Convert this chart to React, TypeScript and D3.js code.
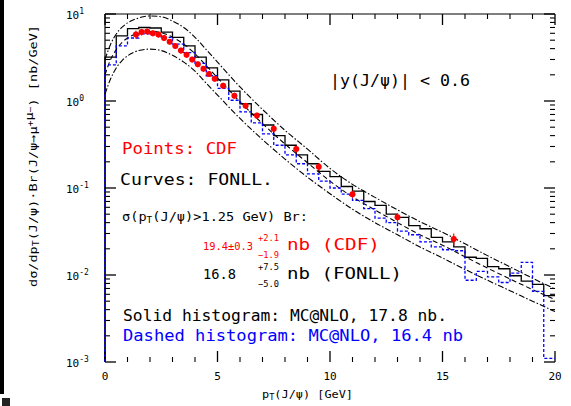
import React from "react";
import * as d3 from "d3";

// FONLL curves (central + uncertainty band)
const fonllPt = [0, 0.25, 0.5, 0.75, 1, 1.5, 2, 2.5, 3, 3.5, 4, 4.5, 5, 6, 7, 8, 9, 10, 11, 12, 13, 14, 15, 16, 17, 18, 19, 20];
const fonllCentral = [2.0, 3.0, 3.9, 4.7, 5.3, 6.0, 6.3, 6.1, 5.4, 4.5, 3.5, 2.55, 1.85, 0.98, 0.55, 0.32, 0.195, 0.12, 0.079, 0.056, 0.04, 0.029, 0.022, 0.0162, 0.012, 0.009, 0.0068, 0.0052];
const fonllUpper = [3.0, 4.5, 5.9, 7.0, 7.9, 9.0, 9.5, 9.3, 8.3, 7.0, 5.4, 3.9, 2.8, 1.45, 0.8, 0.46, 0.28, 0.168, 0.11, 0.078, 0.056, 0.041, 0.031, 0.0228, 0.0167, 0.0124, 0.0092, 0.0069];
const fonllLower = [1.2, 1.8, 2.4, 2.9, 3.3, 3.8, 3.95, 3.8, 3.35, 2.8, 2.2, 1.6, 1.17, 0.63, 0.36, 0.215, 0.133, 0.086, 0.057, 0.04, 0.029, 0.021, 0.0157, 0.0116, 0.0087, 0.0066, 0.005, 0.0038];

// CDF data points
const dataPt = [1.375, 1.625, 1.875, 2.125, 2.375, 2.625, 2.875, 3.125, 3.375, 3.625, 3.875, 4.125, 4.375, 4.625, 4.875, 5.25, 5.75, 6.25, 6.75, 7.5, 8.5, 9.5, 11, 13, 15.5];
const dataVal = [5.8, 6.2, 6.3, 6.0, 5.8, 5.3, 4.8, 4.3, 3.8, 3.4, 3.0, 2.65, 2.35, 2.05, 1.8, 1.5, 1.15, 0.88, 0.68, 0.48, 0.28, 0.175, 0.085, 0.046, 0.026];
const dataErr = [0.6, 0.55, 0.5, 0.45, 0.45, 0.4, 0.35, 0.32, 0.3, 0.26, 0.23, 0.2, 0.18, 0.16, 0.14, 0.12, 0.09, 0.07, 0.055, 0.04, 0.025, 0.016, 0.008, 0.005, 0.004];

// MC@NLO histograms
const histEdges = [0, 0.5, 1, 1.5, 2, 2.5, 3, 3.5, 4, 4.5, 5, 5.5, 6, 6.5, 7, 7.5, 8, 8.5, 9, 9.5, 10, 10.5, 11, 11.5, 12, 12.5, 13, 13.5, 14, 14.5, 15, 15.5, 16, 16.5, 17, 17.5, 18, 18.5, 19, 19.5, 20];
const mcSolid = [3.2, 5.6, 6.8, 7.0, 6.9, 6.2, 5.4, 4.3, 3.2, 2.4, 1.75, 1.3, 0.93, 0.7, 0.53, 0.4, 0.31, 0.24, 0.19, 0.155, 0.135, 0.104, 0.092, 0.07, 0.063, 0.05, 0.046, 0.037, 0.034, 0.027, 0.024, 0.021, 0.016, 0.0155, 0.0125, 0.0118, 0.0098, 0.0085, 0.0078, 0.0058];
const mcDashed = [2.6, 4.3, 5.3, 5.9, 5.8, 5.4, 4.5, 3.6, 2.7, 1.95, 1.4, 1.02, 0.75, 0.56, 0.42, 0.31, 0.24, 0.19, 0.145, 0.12, 0.1, 0.085, 0.072, 0.058, 0.045, 0.04, 0.032, 0.029, 0.024, 0.021, 0.0195, 0.019, 0.0087, 0.011, 0.0095, 0.0082, 0.0105, 0.014, 0.0065, 0.0011];

const xTickLabels = [0, 5, 10, 15, 20];
const xMinorTicks = [1, 2, 3, 4, 6, 7, 8, 9, 11, 12, 13, 14, 16, 17, 18, 19];
const yTickExps = [1, 0, -1, -2, -3];

const FONT = "'DejaVu Sans Mono', 'Liberation Mono', monospace";

export default function App() {
  const x = d3.scaleLinear().domain([0, 20]).range([105, 555]);
  const y = d3.scaleLog().domain([1e-3, 10]).range([362, 14]).clamp(true);

  const line = d3
    .line<number>()
    .x((_, i) => x(fonllPt[i]))
    .y((d) => y(d))
    .curve(d3.curveMonotoneX);

  const hist = (vals: number[]) => {
    let p = `M${x(histEdges[0])},${y(1e-3)}`;
    vals.forEach((v, i) => {
      p += `L${x(histEdges[i])},${y(v)}L${x(histEdges[i + 1])},${y(v)}`;
    });
    return p;
  };

  const minorY: number[] = [];
  for (let e = -3; e < 1; e++) for (let k = 2; k <= 9; k++) minorY.push(k * Math.pow(10, e));

  return (
    <svg width={571} height={406} style={{ position: "absolute", left: 0, top: 0, background: "#fff" }} fontFamily={FONT}>
      <rect x={0} y={0} width={571} height={406} fill="#fff" />
      <rect x={0} y={0} width={4} height={394} fill="#000" />
      <rect x={2} y={398} width={8} height={8} fill="#222" />

      {/* frame */}
      <line x1={105} x2={555} y1={14} y2={14} stroke="#000" strokeWidth={1.2} />
      <line x1={105} x2={105} y1={14} y2={362} stroke="#000" strokeWidth={1.2} />

      {/* y ticks */}
      {yTickExps.map((e) => (
        <g key={"yt" + e}>
          <line x1={105} x2={116} y1={y(Math.pow(10, e))} y2={y(Math.pow(10, e))} stroke="#000" strokeWidth={1.3} />
          <line x1={544} x2={555} y1={y(Math.pow(10, e))} y2={y(Math.pow(10, e))} stroke="#000" strokeWidth={1.3} />
          <text x={66} y={y(Math.pow(10, e)) + 5} fontSize={11} fill="#000">
            10<tspan dy={-5} fontSize={8}>{e}</tspan>
          </text>
        </g>
      ))}
      {minorY.map((v, i) => (
        <g key={"ym" + i}>
          <line x1={105} x2={110} y1={y(v)} y2={y(v)} stroke="#000" strokeWidth={1.1} />
          <line x1={550} x2={555} y1={y(v)} y2={y(v)} stroke="#000" strokeWidth={1.1} />
        </g>
      ))}

      {/* x ticks */}
      {xTickLabels.map((t) => (
        <g key={"xt" + t}>
          <line x1={x(t)} x2={x(t)} y1={362} y2={351} stroke="#000" strokeWidth={1.3} />
          <line x1={x(t)} x2={x(t)} y1={14} y2={25} stroke="#000" strokeWidth={1.3} />
          <text x={x(t)} y={380} fontSize={11} textAnchor="middle" fill="#000">{t}</text>
        </g>
      ))}
      {xMinorTicks.map((t) => (
        <g key={"xm" + t}>
          <line x1={x(t)} x2={x(t)} y1={362} y2={357} stroke="#000" strokeWidth={1.1} />
          <line x1={x(t)} x2={x(t)} y1={14} y2={19} stroke="#000" strokeWidth={1.1} />
        </g>
      ))}

      {/* axis titles */}
      <text x={262} y={398} fontSize={11} fill="#000" textLength={91} lengthAdjust="spacingAndGlyphs">
        p<tspan dy={2} fontSize={8}>T</tspan><tspan dy={-2}>(J/ψ) [GeV]</tspan>
      </text>
      <text transform="translate(37,287) rotate(-90)" fontSize={11} fill="#000" textLength={262} lengthAdjust="spacingAndGlyphs">
        dσ/dp<tspan dy={2} fontSize={8}>T</tspan><tspan dy={-2}>(J/ψ)·Br(J/ψ→μ</tspan><tspan dy={-4} fontSize={8}>+</tspan><tspan dy={0}>μ</tspan><tspan dy={0} fontSize={8}>−</tspan><tspan dy={4}>) [nb/GeV]</tspan>
      </text>

      {/* FONLL curves */}
      <path d={line(fonllUpper) || ""} fill="none" stroke="#000" strokeWidth={1.1} strokeDasharray="6,2,1.5,2" />
      <path d={line(fonllCentral) || ""} fill="none" stroke="#000" strokeWidth={1.1} strokeDasharray="5,3" />
      <path d={line(fonllLower) || ""} fill="none" stroke="#000" strokeWidth={1.1} strokeDasharray="6,2,1.5,2" />

      {/* MC@NLO histograms */}
      <path d={hist(mcSolid)} fill="none" stroke="#000" strokeWidth={1.3} />
      <path d={hist(mcDashed)} fill="none" stroke="#0000ff" strokeWidth={1.3} strokeDasharray="3,2" />

      {/* CDF data */}
      {dataPt.map((p, i) => (
        <g key={"d" + i}>
          <line x1={x(p)} x2={x(p)} y1={y(dataVal[i] + dataErr[i])} y2={y(dataVal[i] - dataErr[i])} stroke="#ff0000" strokeWidth={1.2} />
          <circle cx={x(p)} cy={y(dataVal[i])} r={3} fill="#ff0000" />
        </g>
      ))}

      {/* annotations */}
      <text x={330} y={86} fontSize={15} fill="#000" textLength={140} lengthAdjust="spacingAndGlyphs">|y(J/ψ)| &lt; 0.6</text>
      <text x={122} y={154} fontSize={15} fill="#ff0000" textLength={115} lengthAdjust="spacingAndGlyphs">Points: CDF</text>
      <text x={120} y={185} fontSize={15} fill="#000" textLength={153} lengthAdjust="spacingAndGlyphs">Curves: FONLL.</text>
      <text x={122} y={221} fontSize={13} fill="#000" textLength={186} lengthAdjust="spacingAndGlyphs">
        σ(p<tspan dy={2} fontSize={9}>T</tspan><tspan dy={-2}>(J/ψ)&gt;1.25 GeV) Br:</tspan>
      </text>

      <g fill="#ff0000">
        <text x={203} y={250} fontSize={11} textLength={50} lengthAdjust="spacingAndGlyphs">19.4±0.3</text>
        <text x={258} y={241} fontSize={9} textLength={21} lengthAdjust="spacingAndGlyphs">+2.1</text>
        <text x={258} y={258} fontSize={9} textLength={21} lengthAdjust="spacingAndGlyphs">−1.9</text>
        <text x={287} y={250} fontSize={15} textLength={93} lengthAdjust="spacingAndGlyphs">nb (CDF)</text>
      </g>
      <g fill="#000">
        <text x={203} y={279} fontSize={14} textLength={33} lengthAdjust="spacingAndGlyphs">16.8</text>
        <text x={258} y={270} fontSize={9} textLength={21} lengthAdjust="spacingAndGlyphs">+7.5</text>
        <text x={258} y={287} fontSize={9} textLength={21} lengthAdjust="spacingAndGlyphs">−5.0</text>
        <text x={287} y={279} fontSize={15} textLength={115} lengthAdjust="spacingAndGlyphs">nb (FONLL)</text>
      </g>

      <text x={123} y={321} fontSize={15} fill="#000" textLength={324} lengthAdjust="spacingAndGlyphs">Solid histogram: MC@NLO, 17.8 nb.</text>
      <text x={123} y={341} fontSize={15} fill="#0000ff" textLength={340} lengthAdjust="spacingAndGlyphs">Dashed histogram: MC@NLO, 16.4 nb</text>
    </svg>
  );
}
